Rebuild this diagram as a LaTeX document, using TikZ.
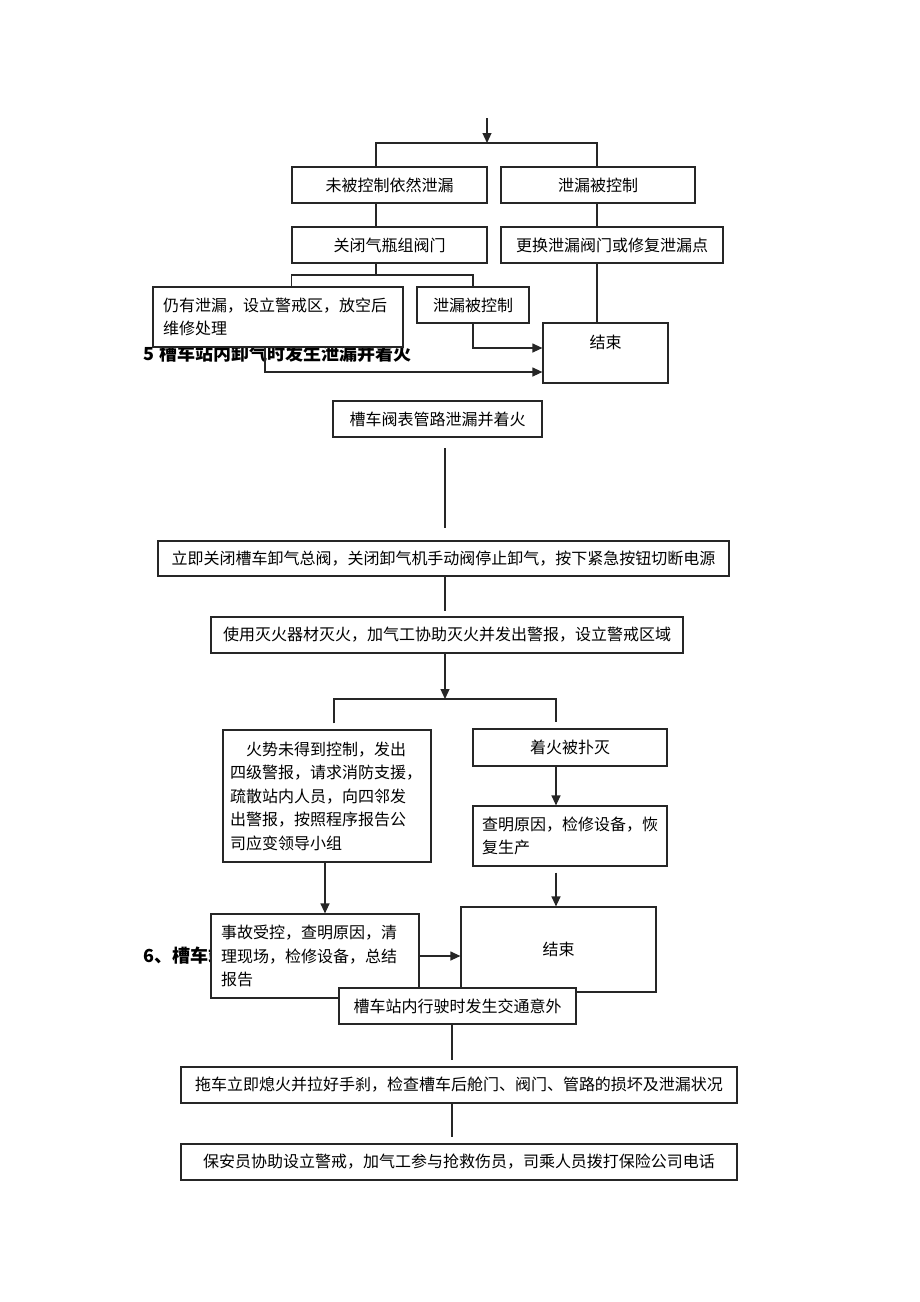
\documentclass[tikz,border=0pt]{standalone}
\usepackage{fontspec}
\newfontfamily\cjk{Noto Sans CJK SC}
\usetikzlibrary{arrows.meta}
\begin{document}
\begin{tikzpicture}[x=1pt,y=-1pt,>={Triangle[length=10pt,width=9pt]},line width=1.2pt,draw=black!85,
    font=\cjk\fontsize{16}{23.5}\selectfont,
    box/.style={draw=black!85,fill=white,inner sep=0pt,minimum height=36pt},
    para/.style={box,align=left,inner xsep=10pt},
    head/.style={anchor=base west,font=\cjk\bfseries\fontsize{18}{20}\selectfont}]
  \useasboundingbox (0,0) rectangle (920,1302);
  % 泄漏处理
  \node[box,minimum width=195pt] (a1) at (389.5,185) {未被控制依然泄漏};
  \node[box,minimum width=194pt] (b1) at (598,185) {泄漏被控制};
  \node[box,minimum width=195pt] (a2) at (389.5,245) {关闭气瓶组阀门};
  \node[box,minimum width=222pt] (b2) at (612,245) {更换泄漏阀门或修复泄漏点};
  \node[head] (h5) at (140,360) {5 槽车站内卸气时发生泄漏并着火};
  \node[para,text width=230pt,minimum height=60pt] (e1) at (278,317) {仍有泄漏，设立警戒区，放空后\\维修处理};
  \node[box,minimum width=112pt] (f1) at (473,305) {泄漏被控制};
  \node[box,minimum width=125pt,minimum height=60pt,text height=25pt,text depth=35pt] (end1) at (605.5,353) {结束};
  \coordinate (in1) at (487,118);
  \coordinate (fk1) at (487,143);
  \coordinate (fk1l) at (376,143);
  \coordinate (fk1r) at (597,143);
  \draw[->] (in1) -- (fk1);
  \draw (a1.north -| fk1l) -- (fk1l) -- (fk1r) -- (b1.north -| fk1r);
  \draw (a1.south -| fk1l) -- (a2.north -| fk1l);
  \draw (b1.south -| fk1r) -- (b2.north -| fk1r);
  \draw (b2.south -| fk1r) -- (end1.north -| fk1r);
  \coordinate (fk2) at (376,275);
  \draw (a2.south -| fk2) -- (fk2);
  \draw (e1.north -| a2.west) -- (a2.west |- fk2) -- (f1.north |- fk2) -- (f1.north);
  \draw[->] (f1.south) |- ([yshift=5pt]end1.west);
  \coordinate (e1x) at (265,372);
  \draw[->] (e1.south -| e1x) -- (e1x) -- (end1.west |- e1x);
  % 泄漏并着火
  \node[box,minimum width=209pt] (g) at (437.5,419) {槽车阀表管路泄漏并着火};
  \node[box,minimum width=571pt,minimum height=35pt] (h) at (443.5,558.5) {立即关闭槽车卸气总阀，关闭卸气机手动阀停止卸气，按下紧急按钮切断电源};
  \node[box,minimum width=472pt] (i) at (447,635) {使用灭火器材灭火，加气工协助灭火并发出警报，设立警戒区域};
  \node[para,inner xsep=7pt,text width=194pt,minimum height=132pt] (j) at (327,796) {\hspace*{1em}火势未得到控制，发出\\四级警报，请求消防支援，\\疏散站内人员，向四邻发\\出警报，按照程序报告公\\司应变领导小组};
  \node[box,minimum width=194pt,minimum height=37pt] (k) at (570,747.5) {着火被扑灭};
  \node[para,inner xsep=9pt,text width=176pt,minimum height=60pt] (l) at (570,836) {查明原因，检修设备，恢\\复生产};
  \node[box,minimum width=195pt,minimum height=85pt] (end2) at (558.5,949.5) {结束};
  \node[head] (h6) at (140,962) {6、槽车站};
  \node[para,text width=188pt,minimum height=84pt] (m) at (315,956) {事故受控，查明原因，清\\理现场，检修设备，总结\\报告};
  \node[box,minimum width=237pt] (n) at (457.5,1006) {槽车站内行驶时发生交通意外};
  \node[box,minimum width=556pt] (o) at (459,1085) {拖车立即熄火并拉好手刹，检查槽车后舱门、阀门、管路的损坏及泄漏状况};
  \node[box,minimum width=556pt] (p) at (459,1162) {保安员协助设立警戒，加气工参与抢救伤员，司乘人员拨打保险公司电话};
  \coordinate (gh1) at (445,448);
  \coordinate (gh2) at (445,528);
  \draw (gh1) -- (gh2);
  \draw[shorten >=5pt] (h.south -| gh1) -- (i.north -| gh1);
  \coordinate (fk3) at (445,699);
  \coordinate (fk3l) at (334,699);
  \coordinate (fk3r) at (556,699);
  \draw[->] (i.south -| fk3) -- (fk3);
  \draw[shorten <=6pt,shorten >=6pt] (j.north -| fk3l) -- (fk3l) -- (fk3r) -- (k.north -| fk3r);
  \draw[->] (k.south -| fk3r) -- (l.north -| fk3r);
  \draw[->,shorten <=6pt] (l.south -| fk3r) -- (end2.north -| fk3r);
  \coordinate (jx) at (325,0);
  \draw[->] (j.south -| jx) -- (m.north -| jx);
  \draw[->] (m.east) -- (m.east -| end2.west);
  % 交通意外
  \coordinate (nx) at (452,0);
  \draw[shorten >=6pt] (n.south -| nx) -- (o.north -| nx);
  \draw[shorten >=6pt] (o.south -| nx) -- (p.north -| nx);
\end{tikzpicture}
\end{document}
